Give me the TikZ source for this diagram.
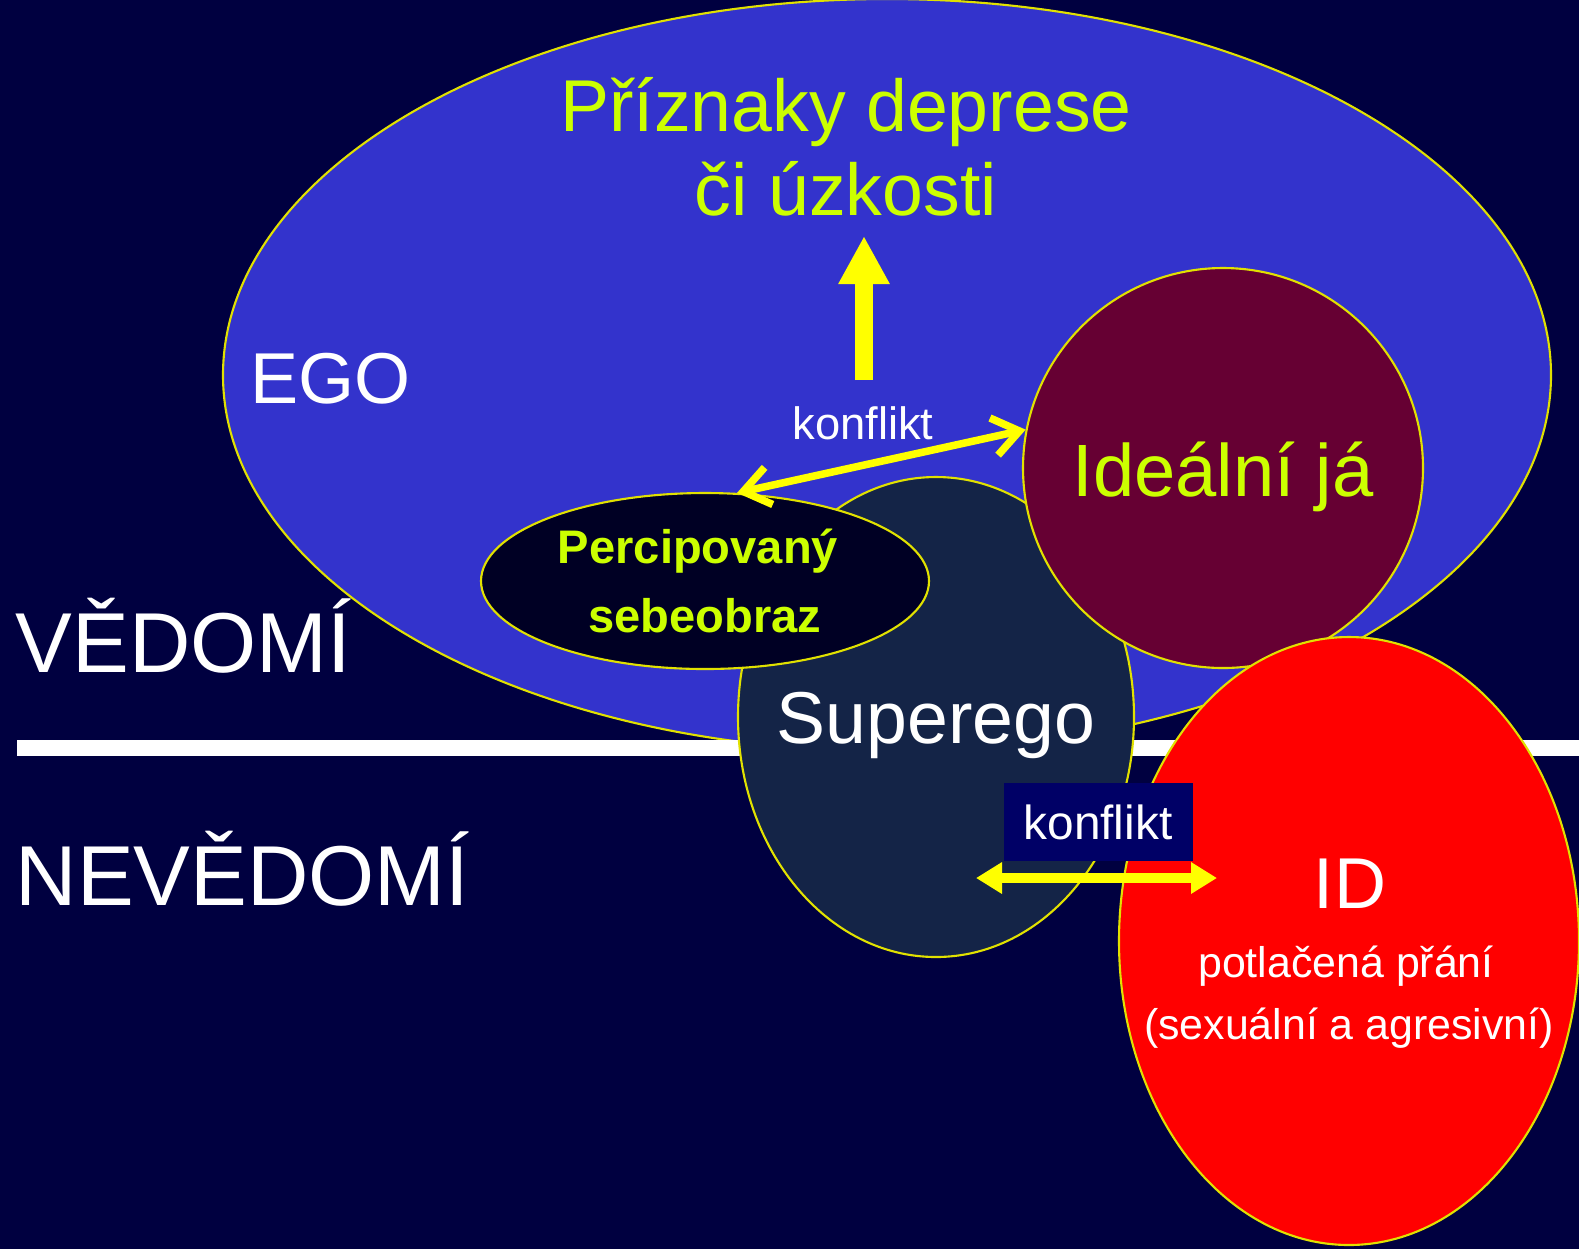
\documentclass[tikz,border=0pt]{standalone}
\usepackage{fontspec}
\setmainfont{Liberation Sans}
\usetikzlibrary{arrows.meta,calc,positioning,shapes.geometric}
\definecolor{psybg}{RGB}{0,0,64}
\definecolor{psyblue}{RGB}{51,51,204}
\definecolor{psyslate}{RGB}{20,36,71}
\definecolor{psyink}{RGB}{0,0,36}
\definecolor{psymaroon}{RGB}{102,0,51}
\definecolor{psyred}{RGB}{255,0,0}
\definecolor{psybox}{RGB}{0,0,102}
\definecolor{psylime}{RGB}{204,255,0}
\definecolor{psyyellow}{RGB}{255,255,0}
\definecolor{psyrim}{RGB}{225,225,0}

\begin{document}
\begin{tikzpicture}[
      zone/.style={ellipse, draw=psyrim, line width=0.6pt, inner sep=0pt, align=center},
      bigtxt/.style={font=\fontsize{20.5}{24}\selectfont, text=white, inner sep=0pt},
      smalltxt/.style={font=\fontsize{12.2}{14}\selectfont, text=white, inner sep=0pt},
      dblarr/.style={{Straight Barb[length=2.6mm, width=3.8mm]}-{Straight Barb[length=2.6mm, width=3.8mm]}, line width=0.75mm, color=psyyellow},
      flatarr/.style={{Triangle[length=2.6mm, width=3mm]}-{Triangle[length=2.6mm, width=3mm]}, line width=1mm, color=psyyellow},
      uparr/.style={-{Triangle[length=4.8mm, width=4.8mm]}, line width=1.8mm, color=psyyellow}
    ]
      \fill[psybg] (0,0) rectangle (15.79,-12.49);
      \useasboundingbox (0,0) rectangle (15.79,-12.49);

      \node[zone, fill=psyblue, minimum width=13.28cm, minimum height=7.52cm] (ego) at (8.87,-3.75) {};

      \coordinate (divL) at (0.17,-7.48);
      \coordinate (divR) at (15.79,-7.48);
      \draw[white, line width=1.6mm] (divL) -- (divR);

      \node[zone, fill=psyslate, minimum width=3.96cm, minimum height=4.80cm] (superego) at (9.36,-7.17) {};

      \node[zone, fill=psyink, minimum width=4.48cm, minimum height=1.76cm,
            font=\bfseries\fontsize{13.4}{19.6}\selectfont, text=psylime] (percip) at (7.05,-5.81)
            {Percipovaný\hspace*{0.14cm}\\sebeobraz};

      \node[zone, circle, fill=psymaroon, minimum size=4.00cm] (ideal) at (12.23,-4.68) {};
      \node[font=\fontsize{21.1}{24}\selectfont, text=psylime, inner sep=0pt, anchor=base] (idealtxt) at (12.23,-4.96) {Ideální já};

      \node[zone, fill=psyred, minimum width=4.60cm, minimum height=6.08cm] (id) at (13.49,-9.41) {};

      \node[font=\fontsize{20.9}{24}\selectfont, text=psylime, align=center, inner sep=0pt] (symptoms) at (8.46,-1.47)
            {Příznaky deprese\\či úzkosti};

      \node[bigtxt, anchor=base west] (egolbl) at (2.50,-4.03) {EGO};
      \node[bigtxt, font=\fontsize{24.2}{28}\selectfont, anchor=base west] (conscious) at (0.15,-6.72) {VĚDOMÍ};
      \node[bigtxt, font=\fontsize{24.2}{28}\selectfont, anchor=base west] (unconscious) at (0.15,-9.05) {NEVĚDOMÍ};
      \node[bigtxt, font=\fontsize{20.9}{24}\selectfont, anchor=base] (superlbl) at (9.36,-7.43) {Superego};
      \node[bigtxt, anchor=base] (idlbl) at (13.50,-9.08) {ID};
      \node[smalltxt, anchor=base] (wishes) at (13.46,-9.77) {potlačená přání};
      \node[smalltxt, anchor=base] (drives) at (13.49,-10.39) {(sexuální a agresivní)};

      \node[font=\fontsize{12.9}{14}\selectfont, text=white, inner sep=0pt] (konf1) at (8.63,-4.23) {konflikt};
      \node[fill=psybox, minimum width=1.89cm, minimum height=0.78cm, inner sep=0pt,
            font=\fontsize{13.6}{15}\selectfont, text=white] (konf2) at (10.98,-8.22) {konflikt};

      \coordinate (upbase) at (8.64,-3.80);
      \coordinate (uptip) at (8.64,-2.36);
      \coordinate (supE) at (9.76,-8.78);
      \coordinate (idW) at (12.17,-8.78);

      \draw[uparr] (upbase) -- (uptip);
      \draw[dblarr] (percip.70) -- (ideal.169);
      \draw[flatarr] (supE) -- (idW);
    \end{tikzpicture}
\end{document}
